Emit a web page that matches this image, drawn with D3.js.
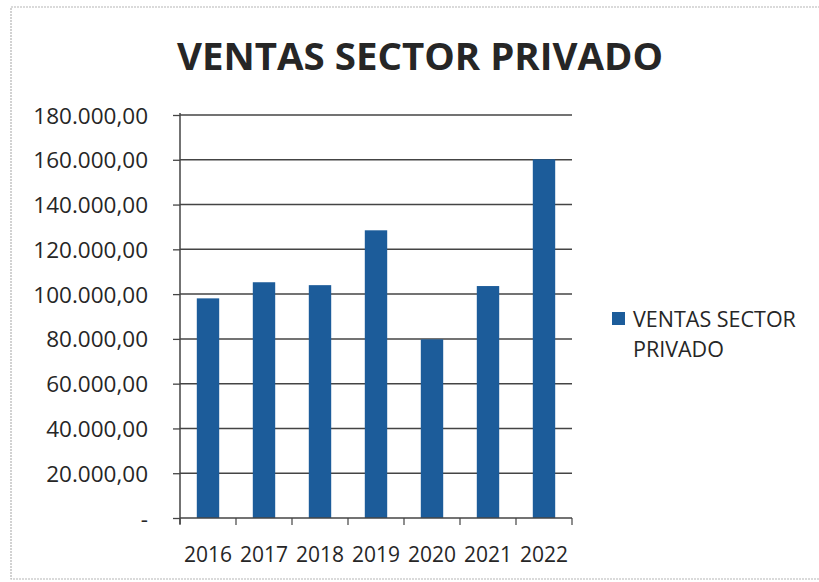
<!DOCTYPE html>
<html>
<head>
<meta charset="utf-8">
<script src="https://cdn.jsdelivr.net/npm/d3@7"></script>
<style>
  html, body { margin: 0; padding: 0; background: #fff; }
  svg { display: block; }
  text { font-family: "Open Sans", "Liberation Sans", sans-serif; fill: #262626; }
</style>
</head>
<body>
<svg id="chart" width="819" height="582"></svg>
<script>
const title = "VENTAS SECTOR PRIVADO";
const seriesName = "VENTAS SECTOR PRIVADO";
const categories = ["2016", "2017", "2018", "2019", "2020", "2021", "2022"];
const values = [98100, 105300, 104000, 128500, 79800, 103600, 160200];
const yTicks = [0, 20000, 40000, 60000, 80000, 100000, 120000, 140000, 160000, 180000];

const svg = d3.select("#chart");
const W = 819, H = 582;
const m = { left: 180, right: 572, top: 115, bottom: 518 };

// outer border (scanned frame)
svg.append("rect").attr("x", 11).attr("y", 7).attr("width", W + 10).attr("height", 572)
  .attr("fill", "none").attr("stroke", "#b5b5b5").attr("stroke-width", 1.2)
  .attr("stroke-dasharray", "2,1");

const x = d3.scaleBand().domain(categories).range([m.left, m.right]).paddingInner(0.6).paddingOuter(0.3);
const y = d3.scaleLinear().domain([0, 180000]).range([m.bottom, m.top]);

const fmt = v => v === 0 ? "-" :
  d3.format(",.2f")(v).replace(/,/g, "#").replace(/\./g, ",").replace(/#/g, ".");

// gridlines
svg.append("g").selectAll("line").data(yTicks.filter(d => d > 0)).join("line")
  .attr("x1", m.left).attr("x2", m.right)
  .attr("y1", d => y(d)).attr("y2", d => y(d))
  .attr("stroke", "#444").attr("stroke-width", 1.5);

// bars
svg.append("g").selectAll("rect").data(values).join("rect")
  .attr("x", (d, i) => x(categories[i]))
  .attr("width", x.bandwidth())
  .attr("y", d => y(d))
  .attr("height", d => y(0) - y(d))
  .attr("fill", "#1c5c9a");

// y axis
const yAxis = d3.axisLeft(y).tickValues(yTicks).tickFormat(fmt).tickSize(7).tickPadding(25);
const gy = svg.append("g").attr("transform", `translate(${m.left},0)`).call(yAxis);
gy.select(".domain").attr("stroke", "#444").attr("stroke-width", 1.5).attr("d", `M0,${m.bottom + 6}V${m.top - 2}`);
gy.selectAll(".tick line").attr("stroke", "#444").attr("stroke-width", 1.3);
gy.selectAll(".tick text").attr("font-size", 22.5).attr("font-family", '"Open Sans", sans-serif')
  .attr("fill", "#262626").attr("dy", "0.36em")
  .attr("x", -32);

// x axis
const boundaries = d3.range(categories.length + 1);
const gx = svg.append("g");
gx.append("line").attr("x1", m.left).attr("x2", m.right).attr("y1", m.bottom).attr("y2", m.bottom)
  .attr("stroke", "#444").attr("stroke-width", 1.5);
gx.selectAll("line.tk").data(boundaries).join("line").attr("class", "tk")
  .attr("x1", i => m.left + (m.right - m.left) * i / categories.length)
  .attr("x2", i => m.left + (m.right - m.left) * i / categories.length)
  .attr("y1", m.bottom).attr("y2", m.bottom + 7)
  .attr("stroke", "#444").attr("stroke-width", 1.2);
gx.selectAll("text").data(categories).join("text")
  .attr("x", d => x(d) + x.bandwidth() / 2)
  .attr("y", 562)
  .attr("text-anchor", "middle")
  .attr("font-size", 21)
  .text(d => d);

// title
svg.append("text").attr("x", 420).attr("y", 70).attr("text-anchor", "middle")
  .attr("font-size", 38).attr("font-weight", "bold")
  .attr("textLength", 486).attr("lengthAdjust", "spacingAndGlyphs")
  .text(title);

// legend
const lg = svg.append("g");
lg.append("rect").attr("x", 612).attr("y", 312).attr("width", 13).attr("height", 13).attr("fill", "#1c5c9a");
const words = seriesName.split(" ");
lg.append("text").attr("x", 633).attr("y", 327).attr("font-size", 21.5).text(words.slice(0, 2).join(" "));
lg.append("text").attr("x", 633).attr("y", 357).attr("font-size", 21.5).text(words.slice(2).join(" "));
</script>
</body>
</html>
